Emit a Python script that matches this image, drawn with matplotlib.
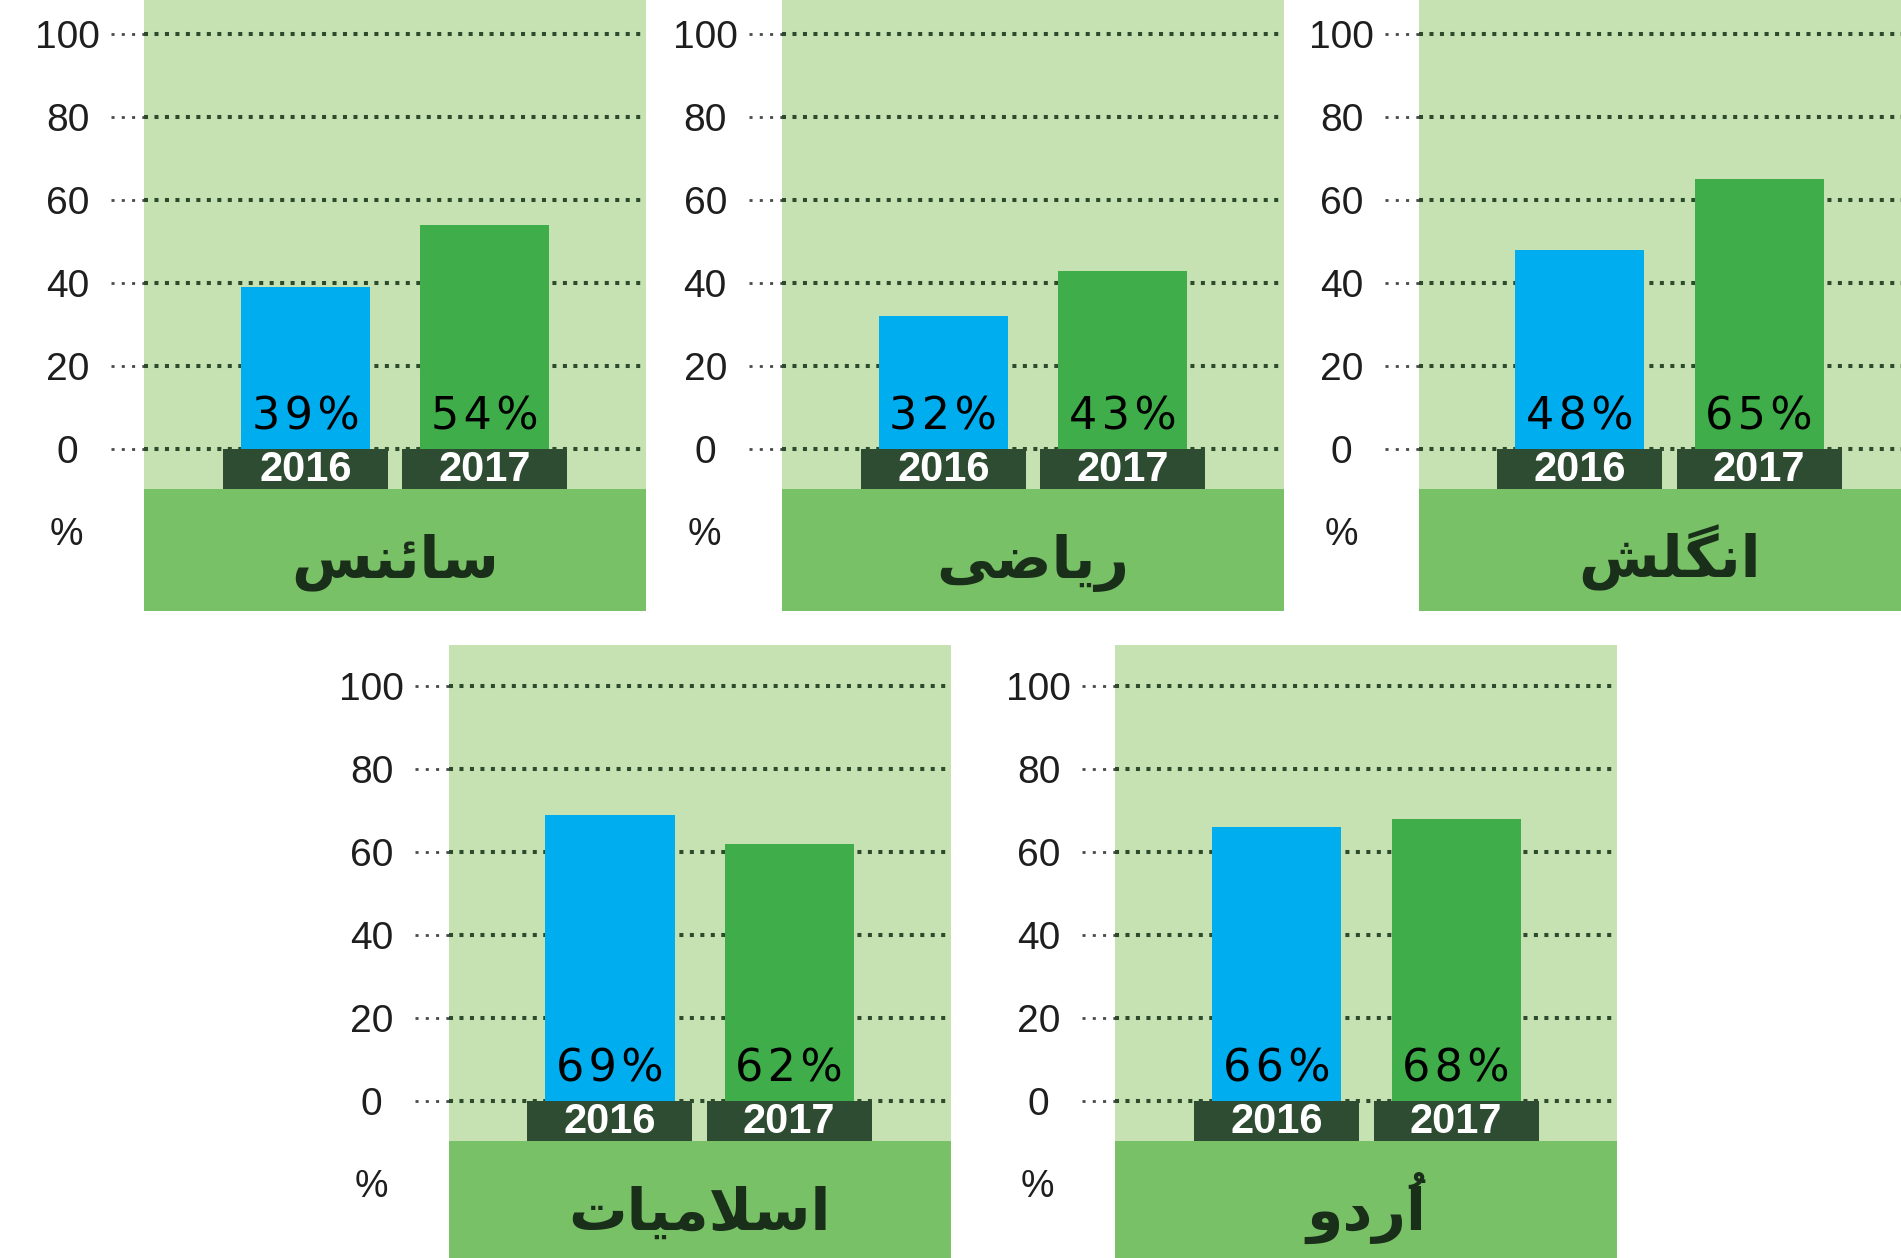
import matplotlib
matplotlib.use("Agg")
import matplotlib.pyplot as plt
import matplotlib.transforms as mtransforms
from matplotlib.font_manager import FontProperties

# ---------------- data ----------------
subjects = ['سائنس', 'ریاضی', 'انگلش', 'اسلامیات', 'اُردو']
years = ['2016', '2017']
values_2016 = [39, 32, 48, 69, 66]
values_2017 = [54, 43, 65, 62, 68]
yticks = [0, 20, 40, 60, 80, 100]
ytick_labels = ['0', '20', '40', '60', '80', '100']

# ---------------- styles ----------------
BG_LIGHT = '#c6e2b2'
BG_BAND = '#79c167'
BLUE = '#00aeef'
GREEN = '#3fad49'
BOX = '#2e4c31'
DOT_GREEN = '#2c4a2c'
DOT_GREY = '#4a4a4a'
URDU_COLOR = '#1a2f1a'
URDU_SIZE = 42

# ---------------- simple Arabic-script shaping (presentation forms) ----------------
FORMS = {
    'ا': ('\uFE8D', '\uFE8E', None, None),
    'ئ': ('\uFE89', '\uFE8A', '\uFE8B', '\uFE8C'),
    'ن': ('\uFEE5', '\uFEE6', '\uFEE7', '\uFEE8'),
    'س': ('\uFEB1', '\uFEB2', '\uFEB3', '\uFEB4'),
    'ر': ('\uFEAD', '\uFEAE', None, None),
    'ی': ('\uFEEF', '\uFEF0', '\uFEF3', '\uFEF4'),
    'ض': ('\uFEBD', '\uFEBE', '\uFEBF', '\uFEC0'),
    'گ': ('\uFB92', '\uFB93', '\uFB94', '\uFB95'),
    'ل': ('\uFEDD', '\uFEDE', '\uFEDF', '\uFEE0'),
    'ش': ('\uFEB5', '\uFEB6', '\uFEB7', '\uFEB8'),
    'م': ('\uFEE1', '\uFEE2', '\uFEE3', '\uFEE4'),
    'ت': ('\uFE95', '\uFE96', '\uFE97', '\uFE98'),
    'د': ('\uFEA9', '\uFEAA', None, None),
    'و': ('\uFEED', '\uFEEE', None, None),
    'LA': ('\uFEFB', '\uFEFC', None, None),
}
# combining mark -> spacing (isolated) presentation form
MARKS = {'\u064F': '\uFE78', '\u064E': '\uFE76', '\u0650': '\uFE7A'}


def shape(s):
    """Return (visual string of base glyphs, [(visual index, marks)])."""
    clusters = []
    for ch in s:
        if ch in MARKS and clusters:
            clusters[-1][1].append(MARKS[ch])
        else:
            clusters.append([ch, []])
    merged = []
    i = 0
    while i < len(clusters):
        if clusters[i][0] == 'ل' and i + 1 < len(clusters) and clusters[i + 1][0] == 'ا':
            merged.append(['LA', clusters[i][1] + clusters[i + 1][1]])
            i += 2
        else:
            merged.append(clusters[i])
            i += 1
    out = []
    n = len(merged)
    for k, (base, marks) in enumerate(merged):
        f = FORMS.get(base)
        if f is None:
            out.append((base, marks))
            continue
        dual = f[2] is not None
        prev_join = k > 0 and merged[k - 1][0] in FORMS and FORMS[merged[k - 1][0]][2] is not None
        next_join = dual and k < n - 1 and merged[k + 1][0] in FORMS
        if prev_join and next_join:
            g = f[3]
        elif prev_join:
            g = f[1]
        elif next_join:
            g = f[2]
        else:
            g = f[0]
        out.append((g, marks))
    out = out[::-1]
    visual = ''.join(g for g, _ in out)
    mark_list = [(j, ''.join(m)) for j, (_, m) in enumerate(out) if m]
    return visual, mark_list


# ---------------- layout (pixels) ----------------
W, H = 1901, 1258
DPI = 100
fig = plt.figure(figsize=(W / DPI, H / DPI), dpi=DPI)
fig.patch.set_facecolor('white')
renderer = fig.canvas.get_renderer()
urdu_prop = FontProperties(family='DejaVu Sans', weight='bold', size=URDU_SIZE)


def text_w(s):
    if not s:
        return 0.0
    return renderer.get_text_width_height_descent(s, urdu_prop, ismath=False)[0]


UNIT = 4.15          # pixels per percentage point
PANEL_W = 502
BAND_TOP = -9.6
HAIR = '\u200a'
# (left, top, bottom, zero-line) in pixels
panels = [
    (144.3, 0, 611, 449),
    (782.0, 0, 611, 449),
    (1418.5, 0, 611, 449),
    (448.6, 645, 1258, 1101),
    (1115.4, 645, 1258, 1101),
]

for idx, (left, top, bottom, zero) in enumerate(panels):
    ax = fig.add_axes([left / W, 1 - bottom / H, PANEL_W / W, (bottom - top) / H])
    ymax = (zero - top) / UNIT
    ymin = -(bottom - zero) / UNIT
    ax.set_ylim(ymin, ymax)
    ax.set_xlim(-0.9, 1.9)
    ax.set_facecolor(BG_LIGHT)
    for sp in ax.spines.values():
        sp.set_visible(False)
    ax.set_xticks([])
    ax.set_yticks(yticks)
    ax.set_yticklabels(ytick_labels, ha='center', fontsize=28,
                       family='Liberation Sans', color='#1e1e1e')
    ax.tick_params(axis='y', length=0, pad=55.3)

    # bottom band
    ax.axhspan(ymin, BAND_TOP, color=BG_BAND, zorder=1, lw=0)

    # dotted grid lines
    ytr = ax.get_yaxis_transform()
    for yv in yticks:
        ax.plot([-0.066, 0], [yv, yv], transform=ytr, clip_on=False,
                color=DOT_GREY, lw=2.0, ls=(0, (1.1, 2.6)),
                dash_capstyle='butt', zorder=2)
        ax.plot([0, 1], [yv, yv], transform=ytr, clip_on=False,
                color=DOT_GREEN, lw=2.9, ls=(0, (1.0, 1.6)),
                dash_capstyle='butt', zorder=2)

    vals = [values_2016[idx], values_2017[idx]]
    xs = [0, 1]
    # year boxes
    ax.bar(xs, [BAND_TOP, BAND_TOP], width=0.92, bottom=0, color=BOX, zorder=3, lw=0)
    # bars
    ax.bar(xs, vals, width=0.72, color=[BLUE, GREEN], zorder=4, lw=0)

    for x, v, yr in zip(xs, vals, years):
        ax.text(x, 4.6, HAIR.join(f'{v}%'), ha='center', va='baseline', fontsize=32,
                family='DejaVu Sans', color='black', zorder=5)
        ax.text(x, -7.8, yr, ha='center', va='baseline', fontsize=30,
                family='Liberation Sans', weight='bold', color='white', zorder=5)

    ax.text(-0.1546, -20.8, '%', transform=ytr, ha='center', va='center',
            fontsize=27, family='Liberation Sans', color='#1e1e1e', clip_on=False)

    # Urdu subject name
    visual, marks = shape(subjects[idx])
    base_y = -31.0
    ax.text(0.5, base_y, visual, transform=ytr, ha='center', va='baseline',
            fontproperties=urdu_prop, color=URDU_COLOR, zorder=5)
    total = text_w(visual)
    for j, m in marks:
        pre = text_w(visual[:j])
        gw = text_w(visual[:j + 1]) - pre
        dx = pre + gw / 2 - total / 2
        tr = mtransforms.offset_copy(ytr, fig=fig, x=dx * 72 / DPI,
                                     y=URDU_SIZE * 0.12, units='points')
        ax.text(0.5, base_y, m, transform=tr, ha='center', va='baseline',
                fontproperties=urdu_prop, color=URDU_COLOR, zorder=5)

fig.savefig('out.png', dpi=DPI, facecolor='white')
